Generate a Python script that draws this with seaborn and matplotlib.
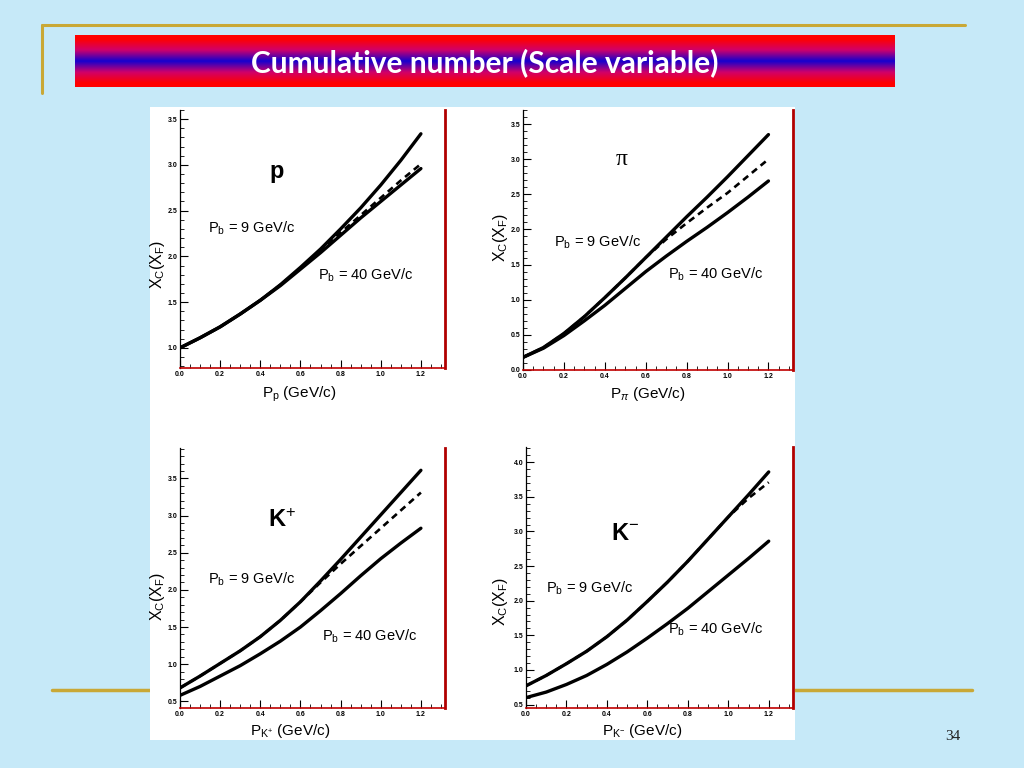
import numpy as np
import pandas as pd
import matplotlib
matplotlib.use("Agg")
import matplotlib.pyplot as plt
import seaborn as sns
from matplotlib.colors import LinearSegmentedColormap
from matplotlib.patches import Rectangle
from matplotlib.lines import Line2D
from matplotlib.ticker import MultipleLocator, FormatStrFormatter

# ---------------- data ----------------
x_mom = [0.0, 0.1, 0.2, 0.3, 0.4, 0.5, 0.6, 0.7, 0.8, 0.9, 1.0, 1.1, 1.2]

p_9 = [1.00, 1.11, 1.23, 1.37, 1.52, 1.69, 1.88, 2.08, 2.30, 2.53, 2.78, 3.05, 3.34]
p_40 = [1.00, 1.11, 1.23, 1.37, 1.52, 1.68, 1.86, 2.04, 2.23, 2.42, 2.60, 2.78, 2.96]
p_dash = [1.00, 1.11, 1.23, 1.37, 1.52, 1.69, 1.87, 2.06, 2.26, 2.45, 2.64, 2.83, 3.01]

pi_9 = [0.18, 0.32, 0.52, 0.76, 1.03, 1.31, 1.60, 1.89, 2.18, 2.46, 2.75, 3.05, 3.35]
pi_40 = [0.18, 0.31, 0.49, 0.70, 0.92, 1.16, 1.40, 1.62, 1.83, 2.03, 2.24, 2.46, 2.69]
pi_dash = [0.18, 0.32, 0.52, 0.76, 1.03, 1.31, 1.60, 1.86, 2.09, 2.31, 2.52, 2.76, 3.00]

kp_9 = [0.68, 0.84, 1.01, 1.18, 1.37, 1.59, 1.84, 2.12, 2.41, 2.71, 3.01, 3.31, 3.61]
kp_40 = [0.58, 0.70, 0.84, 0.98, 1.14, 1.31, 1.50, 1.72, 1.95, 2.19, 2.42, 2.63, 2.83]
kp_dash = [0.68, 0.84, 1.01, 1.18, 1.37, 1.59, 1.84, 2.10, 2.35, 2.59, 2.83, 3.07, 3.31]

km_9 = [0.77, 0.92, 1.09, 1.27, 1.48, 1.72, 1.99, 2.27, 2.57, 2.89, 3.21, 3.53, 3.86]
km_40 = [0.60, 0.68, 0.79, 0.92, 1.08, 1.26, 1.46, 1.67, 1.89, 2.13, 2.37, 2.61, 2.86]
km_dash = [0.77, 0.92, 1.09, 1.27, 1.48, 1.72, 1.99, 2.27, 2.57, 2.89, 3.21, 3.48, 3.71]

title_text = "Cumulative number (Scale variable)"
particles = ["p", "\u03c0", r"K$^{+}$", r"K$^{-}$"]
xlabels = [r"P$_{\rm p}$ (GeV/c)", r"P$_{\pi}$ (GeV/c)",
           r"P$_{\rm K^{+}}$ (GeV/c)", r"P$_{\rm K^{-}}$ (GeV/c)"]
ylabel = r"X$_{\rm C}$(X$_{\rm F}$)"
lab9 = r"P$_{\rm b}$ = 9 GeV/c"
lab40 = r"P$_{\rm b}$ = 40 GeV/c"
page_no = "34"

# ---------------- style ----------------
sns.set_theme(style="white")
plt.rcParams["font.family"] = ["Liberation Sans", "DejaVu Sans"]
plt.rcParams["mathtext.fontset"] = "custom"
plt.rcParams["mathtext.rm"] = "Liberation Sans"
plt.rcParams["mathtext.it"] = "Liberation Sans:italic"
plt.rcParams["mathtext.sf"] = "Liberation Sans"
for k in ["text.color", "axes.labelcolor", "xtick.color", "ytick.color"]:
    plt.rcParams[k] = "black"

BG = "#c6e9f8"
GOLD = "#c9a836"
W, H = 1024, 768
fig = plt.figure(figsize=(10.24, 7.68), dpi=100, facecolor=BG)


def fx(px):
    return px / W


def fy(py):
    return 1 - py / H


# gold decorative lines
fig.add_artist(Line2D([fx(42), fx(965)], [fy(25), fy(25)], color=GOLD, lw=2.2, zorder=-3))
fig.add_artist(Line2D([fx(42), fx(42)], [fy(25), fy(93)], color=GOLD, lw=2.2, zorder=-3))
fig.add_artist(Line2D([fx(52), fx(972)], [fy(690), fy(690)], color=GOLD, lw=2.5, zorder=-3))

# white picture area
fig.add_artist(Rectangle((fx(150), fy(740)), fx(795) - fx(150), (740 - 107) / H,
                         transform=fig.transFigure, facecolor="white",
                         edgecolor="none", zorder=-2))

# title banner with red-blue-red gradient
bax = fig.add_axes([fx(75), fy(87), fx(895) - fx(75), (87 - 35) / H])
cmap = LinearSegmentedColormap.from_list("rb", ["#ff0000", "#d0006a", "#1a00cc"])
grad = np.concatenate([np.linspace(0, 1, 50), np.linspace(1, 0, 50)])
grad = np.clip((grad - 0.15) / 0.85, 0, 1)
bax.imshow(grad[:, None], aspect="auto", cmap=cmap, extent=[0, 1, 0, 1])
bax.set_axis_off()
bax.text(0.5, 0.47, title_text, color="white", fontsize=21.5, fontweight="bold",
         ha="center", va="center", family=["Lato", "DejaVu Sans"])

fig.text(fx(953), fy(737), page_no, fontsize=11, family=["Liberation Serif"],
         ha="center", va="center", color="#222222")

# ---------------- panels ----------------
panels = [
    dict(box=(180, 445, 110, 368), ylim=(0.78, 3.6),
         y9=p_9, y40=p_40, yd=p_dash,
         name=(0.366, 0.76), t9=(0.106, 0.543), t40=(0.52, 0.36),
         xl=(0.45, -0.066), yl=(-0.05, 0.40)),
    dict(box=(523, 793, 110, 370), ylim=(0.0, 3.7),
         y9=pi_9, y40=pi_40, yd=pi_dash,
         name=(0.367, 0.808), t9=(0.115, 0.492), t40=(0.537, 0.369),
         xl=(0.463, -0.058), yl=(-0.05, 0.51)),
    dict(box=(180, 445, 448, 708), ylim=(0.41, 3.91),
         y9=kp_9, y40=kp_40, yd=kp_dash,
         name=(0.385, 0.723), t9=(0.106, 0.496), t40=(0.536, 0.277),
         xl=(0.415, -0.054), yl=(-0.05, 0.43)),
    dict(box=(526, 793, 447, 708), ylim=(0.45, 4.22),
         y9=km_9, y40=km_40, yd=km_dash,
         name=(0.37, 0.67), t9=(0.075, 0.46), t40=(0.53, 0.30),
         xl=(0.434, -0.054), yl=(-0.06, 0.41)),
]

for i, pn in enumerate(panels):
    l, r, t, b = pn["box"]
    ax = fig.add_axes([fx(l), fy(b), (r - l) / W, (b - t) / H])
    ax.set_facecolor("white")
    df = pd.DataFrame({
        "x": x_mom * 3,
        "y": pn["y9"] + pn["y40"] + pn["yd"],
        "curve": ["9"] * len(x_mom) + ["40"] * len(x_mom) + ["fit"] * len(x_mom),
    })
    sns.lineplot(data=df[df.curve == "9"], x="x", y="y", ax=ax, color="black",
                 lw=2.4, legend=False)
    sns.lineplot(data=df[df.curve == "40"], x="x", y="y", ax=ax, color="black",
                 lw=2.4, legend=False)
    sns.lineplot(data=df[df.curve == "fit"], x="x", y="y", ax=ax, color="black",
                 lw=1.9, legend=False, linestyle=(0, (2.5, 1.8)))

    ax.set_xlim(0, 1.32)
    ax.set_ylim(*pn["ylim"])
    ax.xaxis.set_major_locator(MultipleLocator(0.2))
    ax.xaxis.set_minor_locator(MultipleLocator(0.05))
    ax.yaxis.set_major_locator(MultipleLocator(0.5))
    ax.yaxis.set_minor_locator(MultipleLocator(0.1))
    ax.xaxis.set_major_formatter(FormatStrFormatter("%.1f"))
    ax.yaxis.set_major_formatter(FormatStrFormatter("%.1f"))
    ax.tick_params(which="both", direction="in", top=False, right=False,
                   bottom=True, left=True, labelsize=5, pad=2, color="black")
    ax.tick_params(which="major", length=6, width=0.8)
    ax.tick_params(which="minor", length=3, width=0.6)
    for lab in ax.get_xticklabels() + ax.get_yticklabels():
        lab.set_fontweight("bold")
    ax.spines["top"].set_visible(False)
    ax.spines["left"].set_color("black")
    ax.spines["left"].set_linewidth(0.9)
    ax.spines["bottom"].set_color("#c00000")
    ax.spines["bottom"].set_linewidth(1.2)
    ax.spines["right"].set_color("#b00000")
    ax.spines["right"].set_linewidth(2.0)

    ax.set_xlabel(xlabels[i], fontsize=11)
    ax.set_ylabel(ylabel, fontsize=11.5)
    ax.xaxis.set_label_coords(*pn["xl"])
    ax.yaxis.set_label_coords(*pn["yl"])

    if i == 1:
        ax.text(*pn["name"], particles[i], transform=ax.transAxes, fontsize=17,
                family=["Liberation Serif"], ha="center", va="center")
    else:
        ax.text(*pn["name"], particles[i], transform=ax.transAxes, fontsize=17,
                fontweight="bold", ha="center", va="center")
    ax.text(*pn["t9"], lab9, transform=ax.transAxes, fontsize=10.5,
            ha="left", va="center")
    ax.text(*pn["t40"], lab40, transform=ax.transAxes, fontsize=10.5,
            ha="left", va="center")

fig.savefig("out.png", dpi=100, facecolor=BG)
